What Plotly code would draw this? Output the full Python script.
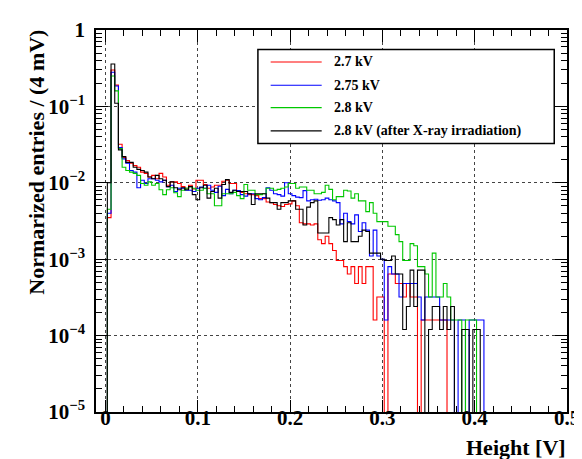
import numpy as np
import plotly.graph_objects as go

# ---------------- data ----------------
BIN_START = 0.002   # V, left edge of first bin
BIN_WIDTH = 0.004   # V (4 mV)
N_BINS = 105

labels = ["2.7 kV", "2.75 kV", "2.8 kV", "2.8 kV (after X-ray irradiation)"]
colors = ["#ff0000", "#0000ff", "#00c800", "#000000"]

red = [0.0035, 0.30, 0.19, 0.032, 0.0214, 0.0195, 0.018, 0.0168, 0.016, 0.0138,
       0.0133, 0.0119, 0.0125, 0.0113, 0.0133, 0.0119, 0.0093, 0.0103, 0.0103, 0.0098,
       0.0089, 0.0085, 0.0093, 0.0083, 0.0108, 0.0108, 0.0095, 0.0085, 0.0088, 0.0093,
       0.0093, 0.0105, 0.0108, 0.0098, 0.0098, 0.0079, 0.0075, 0.0072, 0.0070, 0.0070,
       0.0068, 0.0062, 0.0062, 0.0056, 0.0055, 0.0052, 0.0050, 0.0049, 0.0052, 0.0053,
       0.0058, 0.0050, 0.0030, 0.0029, 0.0029, 0.0028, 0.0029, 0.0018, 0.0016, 0.0020,
       0.0016, 0.0013, 0.00096, 0.00096, 0.00080, 0.00064, 0.00080, 0.00048, 0.00080, 0.00048,
       0.00080, 0.00080, 0.00016, 0.00032, 0.00032, 0, 0.00064, 0.00064, 0.00048, 0.00048,
       0.00032, 0.00048, 0.00032, 0.00032, 0, 0.00016, 0.00016, 0.00016, 0.00016, 0.00016,
       0.00016, 0.00016]

blue = [0.004, 0.28, 0.185, 0.029, 0.0206, 0.018, 0.0145, 0.0138, 0.0086, 0.0108,
        0.0098, 0.0113, 0.0113, 0.0108, 0.0103, 0.0108, 0.0089, 0.0093, 0.0077, 0.0085,
        0.0085, 0.0080, 0.0080, 0.0077, 0.0085, 0.0088, 0.0085, 0.0093, 0.0080, 0.0075,
        0.0090, 0.0068, 0.0082, 0.0072, 0.0080, 0.0079, 0.0070, 0.0067, 0.0072, 0.0072,
        0.0062, 0.0060, 0.0064, 0.0086, 0.0080, 0.0072, 0.0070, 0.0067, 0.0100, 0.0072,
        0.0068, 0.0065, 0.0064, 0.0079, 0.0058, 0.0060, 0.0061, 0.0059, 0.0060, 0.0063,
        0.0060, 0.0058, 0.0055, 0.0029, 0.0040, 0.0031, 0.0029, 0.0038, 0.0023, 0.0030,
        0.0024, 0.0011, 0.0024, 0.0011, 0.0010, 0.00016, 0.00080, 0.00064, 0.00064, 0.00032,
        0.00048, 0.00048, 0.00048, 0.00048, 0.00032, 0.00016, 0.00032, 0.00032, 0.00032, 0.00032,
        0.00016, 0.00016, 0.00016, 0.00016, 0, 0.00016, 0.00016, 0, 0.00016, 0.00016,
        0.00016, 0.00016]

green = [0.0045, 0.25, 0.16, 0.028, 0.016, 0.0145, 0.0138, 0.0133, 0.0125, 0.0098,
         0.0093, 0.0103, 0.0093, 0.0098, 0.0081, 0.0070, 0.0081, 0.0086, 0.0074, 0.0066,
         0.0080, 0.0085, 0.0089, 0.0085, 0.0080, 0.0080, 0.0085, 0.0072, 0.0072, 0.0050,
         0.0050, 0.0072, 0.0072, 0.0072, 0.0075, 0.0068, 0.0062, 0.0095, 0.0080, 0.0080,
         0.0070, 0.0070, 0.0072, 0.0085, 0.0085, 0.0080, 0.0082, 0.0085, 0.0088, 0.0098,
         0.0098, 0.0085, 0.0088, 0.0088, 0.0080, 0.0080, 0.0072, 0.0072, 0.0075, 0.0093,
         0.0082, 0.0060, 0.0066, 0.0066, 0.0080, 0.0078, 0.0063, 0.0072, 0.0058, 0.0058,
         0.0042, 0.0055, 0.0040, 0.0031, 0.0031, 0.0031, 0.0027, 0.0027, 0.0021, 0.0017,
         0.00096, 0.00096, 0.0016, 0.0015, 0.00080, 0.00080, 0.00064, 0.00032, 0.0012, 0.00032,
         0.00032, 0.00048, 0.00032, 0.00016, 0.00016, 0.00016, 0, 0.00016, 0.00016, 0.00016]

black = [0.010, 0.36, 0.11, 0.027, 0.022, 0.0185, 0.0185, 0.016, 0.015, 0.0145,
         0.0138, 0.0119, 0.0113, 0.0125, 0.0113, 0.0108, 0.0089, 0.0103, 0.0086, 0.0081,
         0.0086, 0.0081, 0.0089, 0.0070, 0.0060, 0.0086, 0.0093, 0.0063, 0.0077, 0.0085,
         0.0063, 0.0095, 0.0110, 0.0075, 0.0080, 0.0077, 0.0077, 0.0077, 0.0072, 0.0052,
         0.0072, 0.0072, 0.0072, 0.0063, 0.0055, 0.0055, 0.0045, 0.0055, 0.0055, 0.0058,
         0.0058, 0.0045, 0.0045, 0.0028, 0.0048, 0.0055, 0.0058, 0.0022, 0.0022, 0.0022,
         0.0035, 0.0033, 0.0028, 0.0033, 0.0017, 0.0030, 0.0017, 0.0017, 0.0020, 0.0024,
         0.0023, 0.0012, 0.0012, 0.0012, 0.0010, 0.00096, 0.00096, 0.0011, 0.00064, 0.00064,
         0.00012, 0.00024, 0.00072, 0.00024, 0.00072, 0.00072, 0, 0.00012, 0.00024, 0.00024,
         0.00012, 0.00024, 0.00012, 0.00024, 0, 0, 0.00012, 0.00012, 0, 0.00012,
         0.00012]

x_tickvals = [0, 0.1, 0.2, 0.3, 0.4, 0.5]
x_ticktext = ["0", "0.1", "0.2", "0.3", "0.4", "0.5"]
y_tickvals = [1, 1e-1, 1e-2, 1e-3, 1e-4, 1e-5]
y_ticktext = ["1", "10<sup>−1</sup>", "10<sup>−2</sup>", "10<sup>−3</sup>",
              "10<sup>−4</sup>", "10<sup>−5</sup>"]

# ---------------- figure ----------------
W, H = 582, 459
ML, MR, MT, MB = 88, 14, 10, 55
PW, PH = W - ML - MR, H - MT - MB
FLOOR = 1e-9  # empty bins drawn down below the axis floor

edges = BIN_START + BIN_WIDTH * np.arange(N_BINS + 1)

fig = go.Figure()
for vals, col, lab in zip([red, blue, green, black], colors, labels):
    v = np.zeros(N_BINS)
    v[:len(vals)] = vals
    v = np.where(v > 0, v, FLOOR)
    xs = np.concatenate([[edges[0]], edges[:-1], [edges[-1], edges[-1]]])
    ys = np.concatenate([[FLOOR], v, [v[-1], FLOOR]])
    fig.add_trace(go.Scatter(x=xs, y=ys, mode="lines", line=dict(color=col, width=1.1, shape="hv"),
                             name=lab, showlegend=False, hoverinfo="skip"))

tickfont = dict(family="Liberation Serif", size=21, color="black", weight="bold")
fig.update_xaxes(range=[-0.0103, 0.5], tickvals=x_tickvals, ticktext=x_ticktext,
                 ticks="inside", ticklen=12, tickwidth=1, tickcolor="black",
                 minor=dict(ticks="inside", ticklen=6, dtick=0.02, tick0=0, tickcolor="black", showgrid=False),
                 showline=True, linecolor="black", linewidth=1.5, mirror="allticks",
                 showgrid=True, gridcolor="#444444", griddash="dot", gridwidth=1,
                 zeroline=False, tickfont=tickfont, ticklabelstandoff=-14)
fig.update_yaxes(type="log", range=[-5.0005, 0.0005], tickvals=y_tickvals, ticktext=y_ticktext,
                 ticks="inside", ticklen=12, tickwidth=1, tickcolor="black",
                 minor=dict(ticks="inside", ticklen=6, dtick="D1", tickcolor="black", showgrid=False),
                 showline=True, linecolor="black", linewidth=1.5, mirror="allticks",
                 showgrid=True, gridcolor="#444444", griddash="dot", gridwidth=1,
                 zeroline=False, tickfont=tickfont, ticklabelstandoff=5)

def px_x(p):
    return (p - ML) / PW

def px_y(p):
    return (H - MB - p) / PH

ann = [
    dict(text="Normarized entries / (4 mV)", textangle=-90, x=px_x(27), y=px_y(8),
         xref="paper", yref="paper", xanchor="center", yanchor="top", showarrow=False,
         font=dict(family="Liberation Serif", size=22, color="black", weight="bold")),
    dict(text="Height [V]", x=px_x(569), y=px_y(441), xref="paper", yref="paper",
         xanchor="right", yanchor="middle", showarrow=False,
         font=dict(family="Liberation Serif", size=22, color="black", weight="bold")),
]
shapes = [dict(type="rect", xref="paper", yref="paper", x0=px_x(253), x1=px_x(555),
               y0=px_y(127), y1=px_y(30), line=dict(color="black", width=1.5),
               fillcolor="white", layer="above")]
rows = [43, 67, 90, 114]
for lab, col, ry in zip(labels, colors, rows):
    shapes.append(dict(type="line", xref="paper", yref="paper", x0=px_x(266), x1=px_x(318),
                       y0=px_y(ry), y1=px_y(ry), line=dict(color=col, width=1.2), layer="above"))
    ann.append(dict(text=lab, x=px_x(328), y=px_y(ry), xref="paper", yref="paper",
                    xanchor="left", yanchor="middle", showarrow=False,
                    font=dict(family="Liberation Serif", size=14, color="black", weight="bold")))

fig.update_layout(width=W, height=H, margin=dict(l=ML, r=MR, t=MT, b=MB),
                  paper_bgcolor="white", plot_bgcolor="white",
                  annotations=ann, shapes=shapes, showlegend=False)
fig.write_html("out.html")
